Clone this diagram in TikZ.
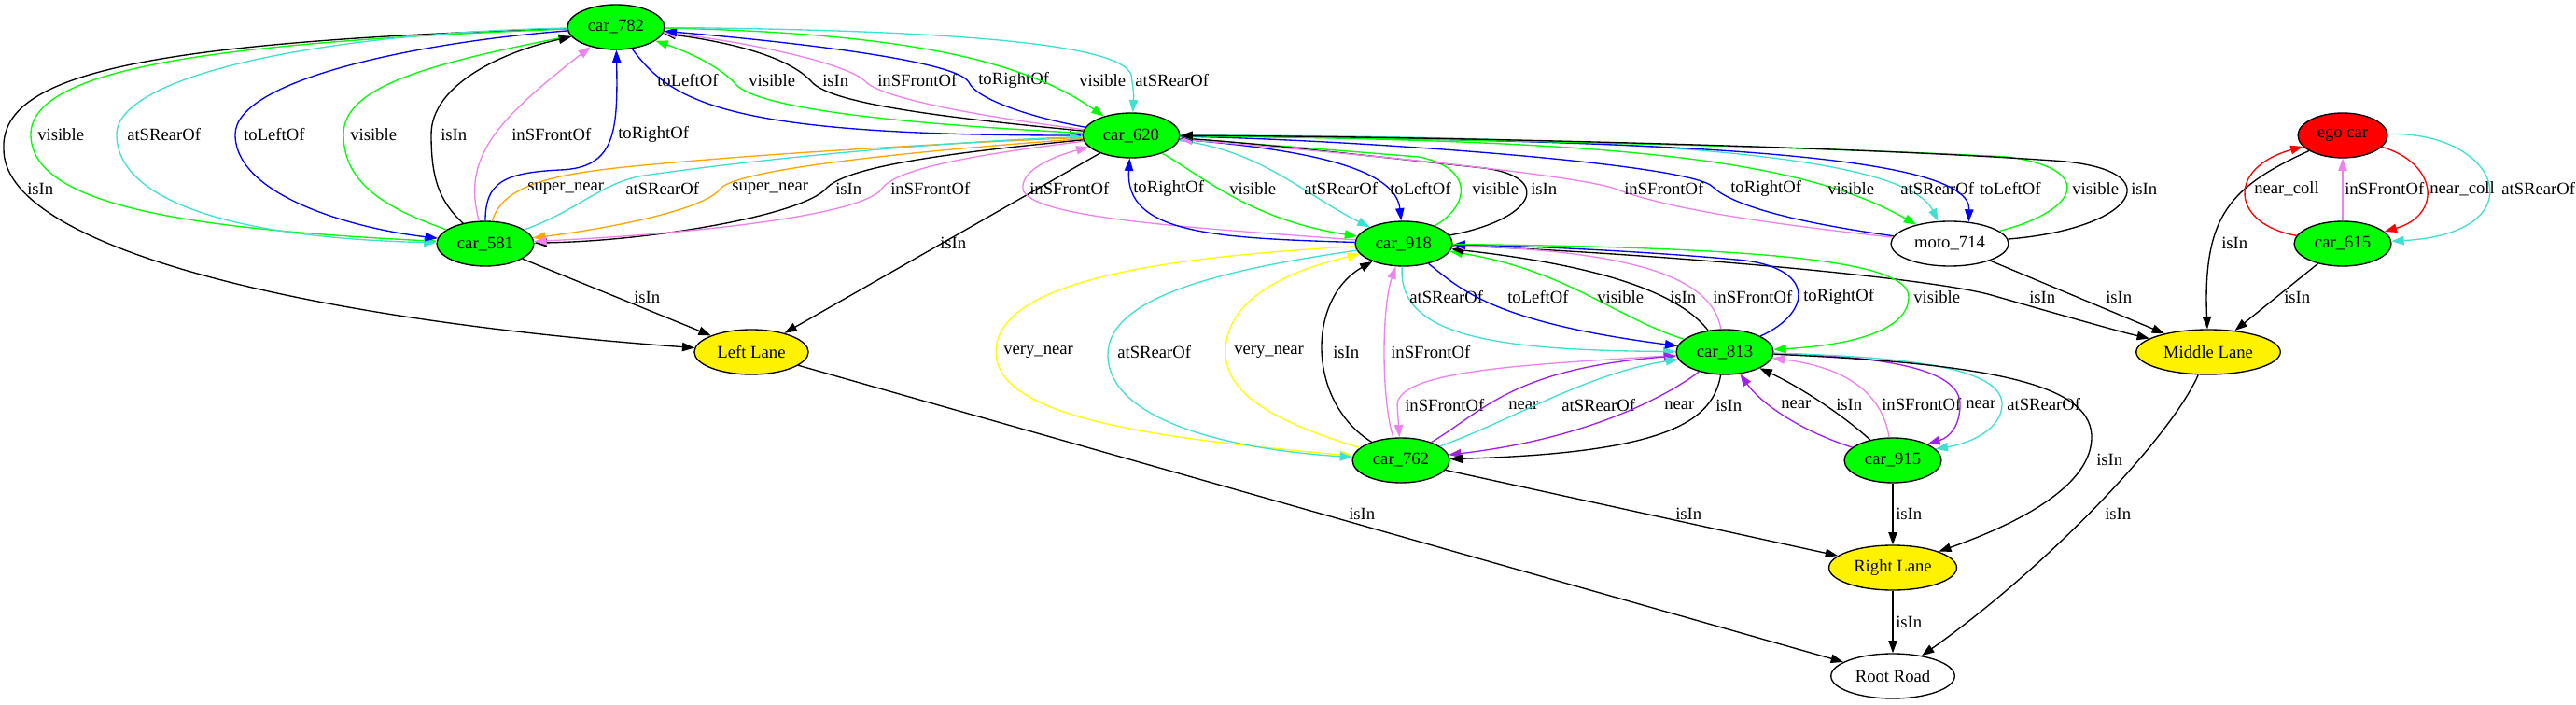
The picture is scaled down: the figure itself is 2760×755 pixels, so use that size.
\documentclass[tikz,border=0pt]{standalone}
\usepackage{fontspec}
\setmainfont{Liberation Serif}
\usepackage{tikz}
\usetikzlibrary{shapes.geometric}
\usetikzlibrary{arrows.meta}
\definecolor{cargreen}{RGB}{0,255,0}
\definecolor{turq}{RGB}{64,224,208}
\definecolor{viol}{RGB}{238,130,238}
\definecolor{orng}{RGB}{255,165,0}
\definecolor{yelw}{RGB}{255,255,0}
\definecolor{purp}{RGB}{160,32,240}
\tikzset{
	obj/.style={draw=black, ellipse, line width=1pt, minimum height=36pt, inner xsep=5pt, inner ysep=2pt, font=\fontsize{14}{16}\selectfont},
	car/.style={obj, fill=cargreen},
	egocar/.style={obj, fill=red},
	lane/.style={obj, fill=yellow},
	lbl/.style={anchor=west, inner sep=0pt, font=\fontsize{14}{16}\selectfont},
	rel/.style={line width=1pt, -{Triangle[length=10pt,width=7pt]}},
	isin/.style={rel, draw=black},
	vis/.style={rel, draw=cargreen},
	rear/.style={rel, draw=turq},
	front/.style={rel, draw=viol},
	leftof/.style={rel, draw=blue},
	rightof/.style={rel, draw=blue},
	supernear/.style={rel, draw=orng},
	verynear/.style={rel, draw=yelw},
	nearby/.style={rel, draw=purp},
	nearcoll/.style={rel, draw=red},
}

\begin{document}
\begin{tikzpicture}[x=0.75pt, y=-0.75pt]
			\useasboundingbox (0,0) rectangle (2760,755);
			% Objects
			\node[car] (car782) at (660,29) {car\_782};
			\node[car] (car620) at (1212,145) {car\_620};
			\node[egocar] (ego) at (2510,145) {ego car};
			\node[car] (car581) at (520,261) {car\_581};
			\node[car] (car918) at (1504,261) {car\_918};
			\node[obj] (moto714) at (2089,261) {moto\_714};
			\node[car] (car615) at (2510,261) {car\_615};
			\node[lane] (left) at (805,377) {Left Lane};
			\node[car] (car813) at (1848,377) {car\_813};
			\node[lane] (middle) at (2366,377) {Middle Lane};
			\node[car] (car762) at (1501,493) {car\_762};
			\node[car] (car915) at (2028,493) {car\_915};
			\node[lane] (right) at (2028,608) {Right Lane};
			\node[obj] (root) at (2028,724) {Root Road};
			% car_782 and car_581
			\draw[isin] (car782) .. controls (150,45) and (0,80) .. (4,160) .. controls (4,260) and (300,340) .. (left);
			\node[lbl] (a1) at (29,202) {isIn};
			\draw[vis] (car782) .. controls (250,45) and (33,70) .. (33,144) .. controls (33,220) and (200,245) .. (car581);
			\node[lbl] (a2) at (40,144) {visible};
			\draw[rear] (car782) .. controls (350,35) and (125,80) .. (125,144) .. controls (125,215) and (250,255) .. (car581);
			\node[lbl] (a3) at (136,144) {atSRearOf};
			\draw[leftof] (car782) .. controls (450,45) and (252,85) .. (252,144) .. controls (252,210) and (380,245) .. (car581);
			\node[lbl] (a4) at (261,144) {toLeftOf};
			\draw[vis] (car581) .. controls (420,225) and (368,200) .. (368,144) .. controls (368,95) and (450,70) .. (car782);
			\node[lbl] (a5) at (375,144) {visible};
			\draw[isin] (car581) .. controls (470,215) and (462,190) .. (462,144) .. controls (462,90) and (540,55) .. (car782);
			\node[lbl] (a6) at (472,144) {isIn};
			\draw[front] (car581) .. controls (495,170) and (530,130) .. (car782);
			\node[lbl] (a7) at (548,144) {inSFrontOf};
			\draw[rightof] (car581) .. controls (520,195) and (540,185) .. (600,182) .. controls (660,180) and (662,140) .. (car782);
			\node[lbl] (a8) at (662,144) {toRightOf};
			% car_782 and car_620
			\draw[leftof] (car782) .. controls (720,110) and (780,145) .. (car620);
			\node[lbl] (b1) at (704,86) {toLeftOf};
			\draw[vis] (car620) .. controls (950,132) and (810,115) .. (788,90) .. controls (770,70) and (735,55) .. (car782);
			\node[lbl] (b2) at (802,86) {visible};
			\draw[isin] (car620) .. controls (1000,125) and (890,110) .. (870,88) .. controls (845,60) and (780,45) .. (car782);
			\node[lbl] (b3) at (881,86) {isIn};
			\draw[front] (car620) .. controls (1050,125) and (945,105) .. (928,88) .. controls (910,68) and (800,45) .. (car782);
			\node[lbl] (b4) at (940,86) {inSFrontOf};
			\draw[rightof] (car620) .. controls (1100,125) and (1045,105) .. (1038,88) .. controls (1025,65) and (850,45) .. (car782);
			\node[lbl] (b5) at (1048,86) {toRightOf};
			\draw[vis] (car782) .. controls (950,35) and (1090,60) .. (car620);
			\node[lbl] (b6) at (1156,86) {visible};
			\draw[rear] (car782) .. controls (1000,32) and (1200,45) .. (1212,80) .. controls (1214,95) and (1215,100) .. (car620);
			\node[lbl] (b7) at (1216,86) {atSRearOf};
			% car_620 and car_581
			\draw[supernear] (car581) .. controls (540,195) and (600,185) .. (700,176) .. controls (850,162) and (1050,152) .. (car620);
			\node[lbl] (c1) at (565,202) {super\_near};
			\draw[rear] (car581) .. controls (620,225) and (645,195) .. (690,188) .. controls (850,165) and (1050,150) .. (car620);
			\node[lbl] (c2) at (670,202) {atSRearOf};
			\draw[supernear] (car620) .. controls (1000,160) and (790,180) .. (772,202) .. controls (755,225) and (650,245) .. (car581);
			\node[lbl] (c3) at (784,202) {super\_near};
			\draw[isin] (car620) .. controls (1000,165) and (905,180) .. (885,202) .. controls (860,230) and (700,258) .. (car581);
			\node[lbl] (c4) at (895,202) {isIn};
			\draw[front] (car620) .. controls (1050,165) and (960,180) .. (945,202) .. controls (925,230) and (750,250) .. (car581);
			\node[lbl] (c5) at (954,202) {inSFrontOf};
			% Left Lane
			\draw[isin] (car620) -- (left);
			\node[lbl] (d1) at (1007,260) {isIn};
			\draw[isin] (car581) -- (left);
			\node[lbl] (d2) at (679,318) {isIn};
			\draw[isin] (left) -- (root);
			\node[lbl] (d3) at (1445,550) {isIn};
			% car_620 and car_918
			\draw[front] (car918) .. controls (1300,245) and (1100,235) .. (1096,202) .. controls (1094,185) and (1120,170) .. (car620);
			\node[lbl] (e1) at (1103,202) {inSFrontOf};
			\draw[rightof] (car918) .. controls (1300,255) and (1205,250) .. (car620);
			\node[lbl] (e2) at (1214,202) {toRightOf};
			\draw[vis] (car620) .. controls (1290,190) and (1340,235) .. (car918);
			\node[lbl] (e3) at (1317,202) {visible};
			\draw[rear] (car620) .. controls (1350,160) and (1400,210) .. (car918);
			\node[lbl] (e4) at (1397,202) {atSRearOf};
			\draw[leftof] (car620) .. controls (1400,160) and (1495,180) .. (car918);
			\node[lbl] (e5) at (1489,202) {toLeftOf};
			\draw[vis] (car918) .. controls (1575,220) and (1580,180) .. (1520,168) .. controls (1420,160) and (1320,152) .. (car620);
			\node[lbl] (e6) at (1577,202) {visible};
			\draw[isin] (car918) .. controls (1645,235) and (1665,190) .. (1590,180) .. controls (1450,165) and (1330,152) .. (car620);
			\node[lbl] (e7) at (1640,202) {isIn};
			% car_620 and moto_714
			\draw[front] (moto714) .. controls (1900,240) and (1790,225) .. (1730,202) .. controls (1680,185) and (1400,160) .. (car620);
			\node[lbl] (f1) at (1740,202) {inSFrontOf};
			\draw[rightof] (moto714) .. controls (1900,235) and (1850,215) .. (1835,200) .. controls (1810,175) and (1450,150) .. (car620);
			\node[lbl] (f2) at (1854,202) {toRightOf};
			\draw[vis] (car620) .. controls (1700,150) and (1920,165) .. (moto714);
			\node[lbl] (f3) at (1958,202) {visible};
			\draw[rear] (car620) .. controls (1750,145) and (2040,165) .. (moto714);
			\node[lbl] (f4) at (2036,202) {atSRearOf};
			\draw[leftof] (car620) .. controls (1800,150) and (2112,165) .. (moto714.49);
			\node[lbl] (f5) at (2121,202) {toLeftOf};
			\draw[vis] (moto714) .. controls (2230,225) and (2245,180) .. (2150,168) .. controls (1900,155) and (1500,148) .. (car620);
			\node[lbl] (f6) at (2220,202) {visible};
			\draw[isin] (moto714) .. controls (2290,245) and (2330,180) .. (2200,172) .. controls (1950,155) and (1500,146) .. (car620);
			\node[lbl] (f7) at (2283,202) {isIn};
			% Middle Lane
			\draw[isin] (moto714) -- (middle);
			\node[lbl] (g1) at (2256,318) {isIn};
			\draw[isin] (car918) .. controls (1750,270) and (2050,295) .. (2130,315) .. controls (2200,335) and (2270,355) .. (middle);
			\node[lbl] (g2) at (2174,318) {isIn};
			% ego car and car_615
			\draw[isin] (ego) .. controls (2390,200) and (2360,230) .. (middle);
			\node[lbl] (h1) at (2380,260) {isIn};
			\draw[nearcoll] (car615) .. controls (2390,240) and (2385,180) .. (ego);
			\node[lbl] (h2) at (2415,202) {near\_coll};
			\draw[front] (car615) -- (ego);
			\node[lbl] (h3) at (2512,202) {inSFrontOf};
			\draw[nearcoll] (ego) .. controls (2612,175) and (2617,230) .. (car615);
			\node[lbl] (h4) at (2603,202) {near\_coll};
			\draw[rear] (ego) .. controls (2680,140) and (2720,250) .. (car615);
			\node[lbl] (h5) at (2680,202) {atSRearOf};
			\draw[isin] (car615) -- (middle);
			\node[lbl] (h6) at (2447,318) {isIn};
			\draw[isin] (middle) .. controls (2325,470) and (2190,610) .. (root);
			\node[lbl] (h7) at (2255,550) {isIn};
			% car_918 and car_813
			\draw[rear] (car918) .. controls (1497,360) and (1600,375) .. (car813);
			\node[lbl] (i1) at (1510,318) {atSRearOf};
			\draw[leftof] (car918) .. controls (1565,310) and (1600,345) .. (car813);
			\node[lbl] (i2) at (1615,318) {toLeftOf};
			\draw[vis] (car813) .. controls (1730,340) and (1680,290) .. (car918);
			\node[lbl] (i3) at (1711,318) {visible};
			\draw[isin] (car813) .. controls (1800,315) and (1720,285) .. (car918);
			\node[lbl] (i4) at (1789,318) {isIn};
			\draw[front] (car813) .. controls (1835,300) and (1760,270) .. (car918);
			\node[lbl] (i5) at (1835,318) {inSFrontOf};
			\draw[rightof] (car813) .. controls (1942,335) and (1947,285) .. (1860,278) .. controls (1750,268) and (1620,263) .. (car918);
			\node[lbl] (i6) at (1932,318) {toRightOf};
			\draw[vis] (car918) .. controls (1900,265) and (2045,280) .. (2045,318) .. controls (2045,355) and (1980,370) .. (car813);
			\node[lbl] (i7) at (2050,318) {visible};
			% car_918 and car_762
			\draw[verynear] (car918) .. controls (1250,275) and (1067,300) .. (1067,377) .. controls (1067,450) and (1250,470) .. (car762);
			\node[lbl] (j1) at (1075,377) {very\_near};
			\draw[rear] (car918) .. controls (1300,290) and (1187,320) .. (1187,380) .. controls (1187,445) and (1300,480) .. (car762);
			\node[lbl] (j2) at (1197,377) {atSRearOf};
			\draw[verynear] (car762) .. controls (1360,450) and (1313,420) .. (1313,377) .. controls (1313,320) and (1380,290) .. (car918);
			\node[lbl] (j3) at (1322,377) {very\_near};
			\draw[isin] (car762) .. controls (1400,430) and (1400,320) .. (car918);
			\node[lbl] (j4) at (1428,377) {isIn};
			\draw[front] (car762) .. controls (1480,430) and (1480,330) .. (car918);
			\node[lbl] (j5) at (1490,377) {inSFrontOf};
			% car_813 and car_762
			\draw[front] (car813) .. controls (1650,390) and (1500,395) .. (1497,433) -- (car762);
			\node[lbl] (k1) at (1505,434) {inSFrontOf};
			\draw[nearby] (car762) .. controls (1590,440) and (1620,395) .. (car813);
			\node[lbl] (k2) at (1616,434) {near};
			\draw[rear] (car762) .. controls (1620,450) and (1700,400) .. (car813);
			\node[lbl] (k3) at (1673,434) {atSRearOf};
			\draw[nearby] (car813) .. controls (1785,425) and (1700,470) .. (car762);
			\node[lbl] (k4) at (1783,434) {near};
			\draw[isin] (car813) .. controls (1835,450) and (1790,485) .. (car762);
			\node[lbl] (k5) at (1838,434) {isIn};
			% car_813 and car_915
			\draw[nearby] (car915) .. controls (1925,460) and (1885,430) .. (car813);
			\node[lbl] (l1) at (1908,433) {near};
			\draw[isin] (car915) .. controls (1975,445) and (1930,415) .. (car813);
			\node[lbl] (l2) at (1967,433) {isIn};
			\draw[front] (car915) .. controls (2018,430) and (1990,395) .. (car813);
			\node[lbl] (l3) at (2016,433) {inSFrontOf};
			\draw[nearby] (car813) .. controls (2040,382) and (2100,400) .. (2100,433) .. controls (2100,455) and (2090,468) .. (car915.25);
			\node[lbl] (l4) at (2106,433) {near};
			\draw[rear] (car813) .. controls (2050,382) and (2145,395) .. (2145,433) .. controls (2145,460) and (2110,475) .. (car915.15);
			\node[lbl] (l5) at (2150,433) {atSRearOf};
			% Right Lane and Root Road
			\draw[isin] (car813) .. controls (2150,390) and (2243,415) .. (2241,470) .. controls (2239,525) and (2150,565) .. (right);
			\node[lbl] (m1) at (2246,492) {isIn};
			\draw[isin] (car762) -- (right);
			\node[lbl] (m2) at (1795,550) {isIn};
			\draw[isin] (car915) -- (right);
			\node[lbl] (m3) at (2031,550) {isIn};
			\draw[isin] (right) -- (root);
			\node[lbl] (m4) at (2031,666) {isIn};
\end{tikzpicture}
\end{document}
